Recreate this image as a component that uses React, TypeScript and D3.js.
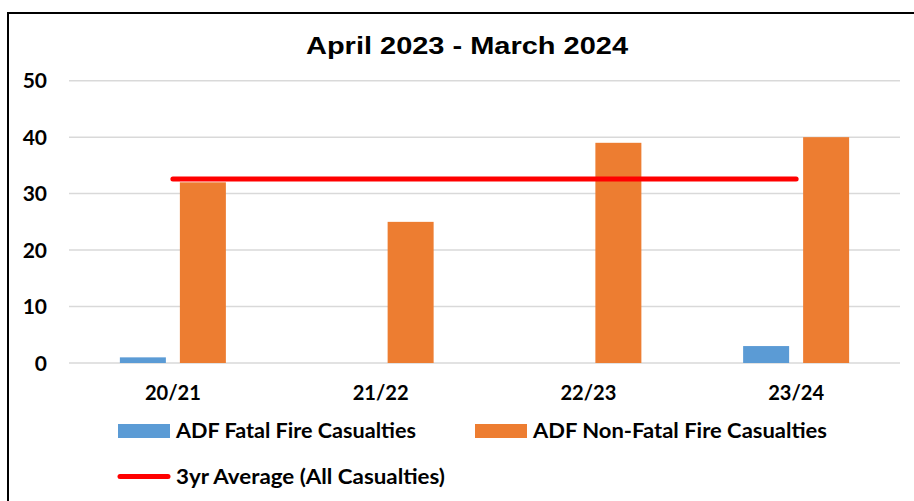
import React, { useEffect, useRef } from "react";
import * as d3 from "d3";

const categories = ["20/21", "21/22", "22/23", "23/24"];
const fatalValues = [1, 0, 0, 3];
const nonFatalValues = [32, 25, 39, 40];
const averageValue = 32.6;
const yTicks = [0, 10, 20, 30, 40, 50];
const seriesNames = ["ADF Fatal Fire Casualties", "ADF Non-Fatal Fire Casualties"];
const averageName = "3yr Average (All Casualties)";
const title = "April 2023 - March 2024";

const App = () => {
  const svgRef = useRef<SVGSVGElement>(null);

  useEffect(() => {
    document.body.style.margin = "0";
    const W = 914;
    const H = 501;
    const plot = { left: 69, right: 900, top: 80.7, bottom: 363 };
    const labelFont = "Lato, 'Open Sans', sans-serif";

    const svg = d3.select(svgRef.current).attr("width", W).attr("height", H);
    svg.selectAll("*").remove();

    svg.append("rect").attr("width", W).attr("height", H).attr("fill", "#fff");

    // outer frame (only top and left edges visible)
    svg
      .append("path")
      .attr("d", `M8,${H + 10} V13 H${W + 10}`)
      .attr("fill", "none")
      .attr("stroke", "#000")
      .attr("stroke-width", 2);

    const x = d3.scaleBand().domain(categories).range([plot.left, plot.right]);
    const x1 = d3
      .scaleBand()
      .domain(seriesNames)
      .range([0, 106])
      .paddingInner(14 / 60);
    const y = d3.scaleLinear().domain([0, 50]).range([plot.bottom, plot.top]);
    const colors = ["#5b9bd5", "#ed7d31"];

    // gridlines
    svg
      .append("g")
      .selectAll("line")
      .data(yTicks)
      .join("line")
      .attr("x1", plot.left)
      .attr("x2", plot.right)
      .attr("y1", (d) => y(d))
      .attr("y2", (d) => y(d))
      .attr("stroke", "#d9d9d9")
      .attr("stroke-width", 1.5);

    // y labels
    svg
      .append("g")
      .selectAll("text")
      .data(yTicks)
      .join("text")
      .attr("x", 47)
      .attr("y", (d) => y(d) + 7.5)
      .attr("text-anchor", "end")
      .style("font-family", labelFont)
      .style("font-weight", "bold")
      .style("font-size", "21px")
      .text((d) => d);

    // bars
    const rows = categories.map((c, i) => ({ c, vals: [fatalValues[i], nonFatalValues[i]] }));
    const groups = svg
      .append("g")
      .selectAll("g")
      .data(rows)
      .join("g")
      .attr("transform", (d) => `translate(${x(d.c)! + x.bandwidth() / 2 - 53},0)`);
    groups
      .selectAll("rect")
      .data((d) => d.vals.map((v, k) => ({ v, k })))
      .join("rect")
      .attr("x", (d) => x1(seriesNames[d.k])!)
      .attr("width", x1.bandwidth())
      .attr("y", (d) => y(d.v))
      .attr("height", (d) => y(0) - y(d.v))
      .attr("fill", (d) => colors[d.k]);

    // average line
    svg
      .append("line")
      .attr("x1", x(categories[0])! + x.bandwidth() / 2)
      .attr("x2", x(categories[categories.length - 1])! + x.bandwidth() / 2)
      .attr("y1", y(averageValue))
      .attr("y2", y(averageValue))
      .attr("stroke", "#ff0000")
      .attr("stroke-width", 5)
      .attr("stroke-linecap", "round");

    // x labels
    svg
      .append("g")
      .selectAll("text")
      .data(categories)
      .join("text")
      .attr("x", (d) => x(d)! + x.bandwidth() / 2)
      .attr("y", 400)
      .attr("text-anchor", "middle")
      .attr("textLength", 56)
      .attr("lengthAdjust", "spacingAndGlyphs")
      .style("font-family", labelFont)
      .style("font-weight", "bold")
      .style("font-size", "21px")
      .text((d) => d);

    // title
    svg
      .append("text")
      .attr("x", 467)
      .attr("y", 54)
      .attr("text-anchor", "middle")
      .attr("textLength", 322)
      .attr("lengthAdjust", "spacingAndGlyphs")
      .style("font-family", "'Liberation Sans', Arial, sans-serif")
      .style("font-weight", "bold")
      .style("font-size", "23px")
      .text(title);

    // legend
    const legendItems = [
      { name: seriesNames[0], x: 118, y: 431, width: 240, type: "rect", color: colors[0] },
      { name: seriesNames[1], x: 475, y: 431, width: 294, type: "rect", color: colors[1] },
      { name: averageName, x: 118, y: 476.5, width: 269, type: "line", color: "#ff0000" },
    ];
    const legend = svg.append("g");
    legendItems.forEach((it) => {
      if (it.type === "rect") {
        legend
          .append("rect")
          .attr("x", it.x)
          .attr("y", it.y - 7)
          .attr("width", 52)
          .attr("height", 14)
          .attr("fill", it.color);
      } else {
        legend
          .append("line")
          .attr("x1", it.x + 2)
          .attr("x2", it.x + 50)
          .attr("y1", it.y)
          .attr("y2", it.y)
          .attr("stroke", it.color)
          .attr("stroke-width", 5)
          .attr("stroke-linecap", "round");
      }
      legend
        .append("text")
        .attr("x", it.x + 58)
        .attr("y", it.y + 7)
        .attr("textLength", it.width)
        .attr("lengthAdjust", "spacingAndGlyphs")
        .style("font-family", labelFont)
        .style("font-weight", "bold")
        .style("font-size", "20px")
        .text(it.name);
    });
  }, []);

  return <svg ref={svgRef}></svg>;
};

export default App;
